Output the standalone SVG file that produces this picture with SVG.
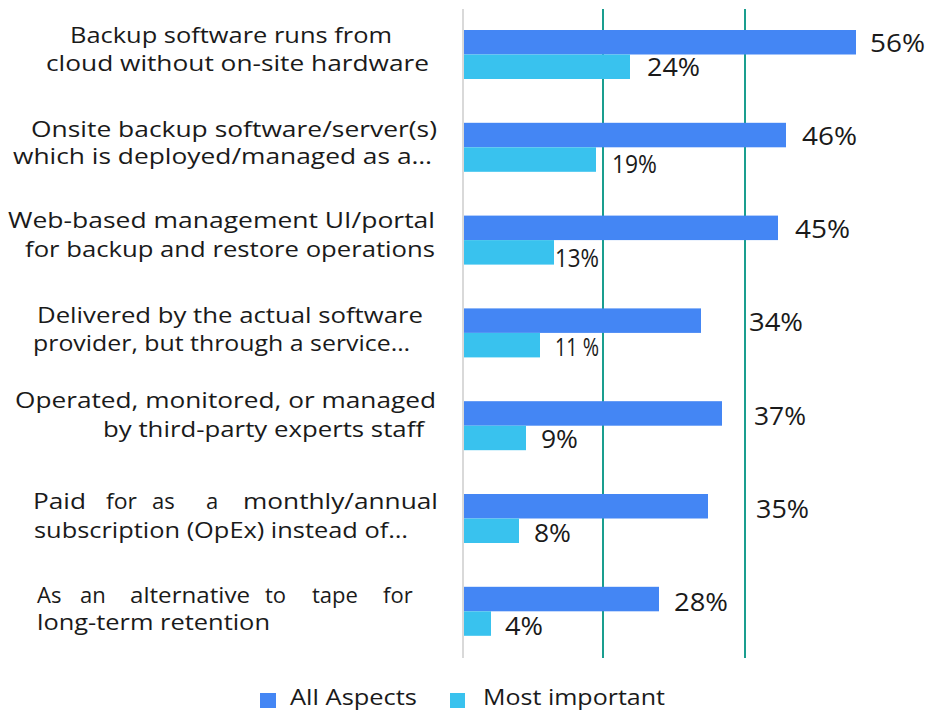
<svg xmlns="http://www.w3.org/2000/svg" width="931" height="712" viewBox="0 0 931 712">
<style>
.lbl{font-family:"Open Sans","Liberation Sans",sans-serif;font-size:22px;fill:#1a1a1a}
.val{font-family:"Open Sans","Liberation Sans",sans-serif;font-size:25px;fill:#1a1a1a}
.leg{font-family:"Open Sans","Liberation Sans",sans-serif;font-size:22px;fill:#1a1a1a}
.all{fill:#4486F4}
.most{fill:#39C2EE}
.grid{stroke:#1A9E8F;stroke-width:2}
.axis{stroke:#D9D9D9;stroke-width:2}
</style>
<rect width="931" height="712" fill="#ffffff"/>
<g id="gridlines">
<line class="grid" x1="603" y1="9" x2="603" y2="658"/>
<line class="grid" x1="745" y1="9" x2="745" y2="658"/>
<line class="axis" x1="463" y1="9" x2="463" y2="658"/>
</g>
<g id="row1">
<text class="lbl" x="70" y="43" textLength="322" lengthAdjust="spacingAndGlyphs">Backup software runs from</text>
<text class="lbl" x="46" y="71" textLength="383" lengthAdjust="spacingAndGlyphs">cloud  without on-site hardware</text>
<rect class="all" x="464" y="30" width="392" height="24.5"/>
<rect class="most" x="464" y="54.5" width="166" height="24.5"/>
<text class="val" x="870" y="52" textLength="55" lengthAdjust="spacingAndGlyphs">56%</text>
<text class="val" x="647" y="76" textLength="53" lengthAdjust="spacingAndGlyphs">24%</text>
</g>
<g id="row2">
<text class="lbl" x="31" y="137" textLength="406" lengthAdjust="spacingAndGlyphs">Onsite backup software/server(s)</text>
<text class="lbl" x="13" y="164" textLength="419" lengthAdjust="spacingAndGlyphs">which is deployed/managed  as a…</text>
<rect class="all" x="464" y="122.8" width="322" height="24.5"/>
<rect class="most" x="464" y="147.3" width="132" height="24.5"/>
<text class="val" x="802" y="145" textLength="55" lengthAdjust="spacingAndGlyphs">46%</text>
<text class="val" x="612" y="173" textLength="45" lengthAdjust="spacingAndGlyphs">19%</text>
</g>
<g id="row3">
<text class="lbl" x="8" y="228" textLength="427" lengthAdjust="spacingAndGlyphs">Web-based management UI/portal</text>
<text class="lbl" x="25" y="257" textLength="410" lengthAdjust="spacingAndGlyphs">for backup and restore operations</text>
<rect class="all" x="464" y="215.6" width="314" height="24.5"/>
<rect class="most" x="464" y="240.1" width="90" height="24.5"/>
<text class="val" x="795" y="238" textLength="55" lengthAdjust="spacingAndGlyphs">45%</text>
<text class="val" x="555" y="267" textLength="44" lengthAdjust="spacingAndGlyphs">13%</text>
</g>
<g id="row4">
<text class="lbl" x="37" y="323" textLength="386" lengthAdjust="spacingAndGlyphs">Delivered by the actual software</text>
<text class="lbl" x="33" y="351" textLength="377" lengthAdjust="spacingAndGlyphs">provider, but through a service…</text>
<rect class="all" x="464" y="308.4" width="237" height="24.5"/>
<rect class="most" x="464" y="332.9" width="76" height="24.5"/>
<text class="val" x="749" y="331" textLength="54" lengthAdjust="spacingAndGlyphs">34%</text>
<text class="val" x="555" y="356" textLength="44" lengthAdjust="spacingAndGlyphs">11 %</text>
</g>
<g id="row5">
<text class="lbl" x="15" y="408" textLength="421" lengthAdjust="spacingAndGlyphs">Operated, monitored, or  managed</text>
<text class="lbl" x="103" y="437" textLength="321" lengthAdjust="spacingAndGlyphs">by third-party experts staff</text>
<rect class="all" x="464" y="401.2" width="258" height="24.5"/>
<rect class="most" x="464" y="425.7" width="62" height="24.5"/>
<text class="val" x="754" y="425" textLength="52" lengthAdjust="spacingAndGlyphs">37%</text>
<text class="val" x="541" y="448" textLength="37" lengthAdjust="spacingAndGlyphs">9%</text>
</g>
<g id="row6">
<text class="lbl" y="509"><tspan x="33" textLength="53" lengthAdjust="spacingAndGlyphs">Paid</tspan><tspan x="106" textLength="31" lengthAdjust="spacingAndGlyphs">for</tspan><tspan x="152">as</tspan><tspan x="206">a</tspan><tspan x="243" textLength="195" lengthAdjust="spacingAndGlyphs">monthly/annual</tspan></text>
<text class="lbl" x="34" y="538" textLength="374" lengthAdjust="spacingAndGlyphs">subscription (OpEx) instead of…</text>
<rect class="all" x="464" y="494" width="244" height="24.5"/>
<rect class="most" x="464" y="518.5" width="55" height="24.5"/>
<text class="val" x="756" y="518" textLength="53" lengthAdjust="spacingAndGlyphs">35%</text>
<text class="val" x="534" y="542" textLength="37" lengthAdjust="spacingAndGlyphs">8%</text>
</g>
<g id="row7">
<text class="lbl" y="603"><tspan x="37">As</tspan><tspan x="80">an</tspan><tspan x="130" textLength="120" lengthAdjust="spacingAndGlyphs">alternative</tspan><tspan x="265">to</tspan><tspan x="312">tape</tspan><tspan x="383">for</tspan></text>
<text class="lbl" x="37" y="630" textLength="233" lengthAdjust="spacingAndGlyphs">long-term retention</text>
<rect class="all" x="464" y="586.8" width="195" height="24.5"/>
<rect class="most" x="464" y="611.3" width="27" height="24.5"/>
<text class="val" x="674" y="611" textLength="54" lengthAdjust="spacingAndGlyphs">28%</text>
<text class="val" x="505" y="635" textLength="38" lengthAdjust="spacingAndGlyphs">4%</text>
</g>
<g id="legend">
<rect class="all" x="260" y="693" width="16" height="15"/>
<text class="leg" x="290" y="705" textLength="127" lengthAdjust="spacingAndGlyphs">All Aspects</text>
<rect class="most" x="450" y="693" width="15" height="15"/>
<text class="leg" x="483" y="705" textLength="182" lengthAdjust="spacingAndGlyphs">Most important</text>
</g>
</svg>
